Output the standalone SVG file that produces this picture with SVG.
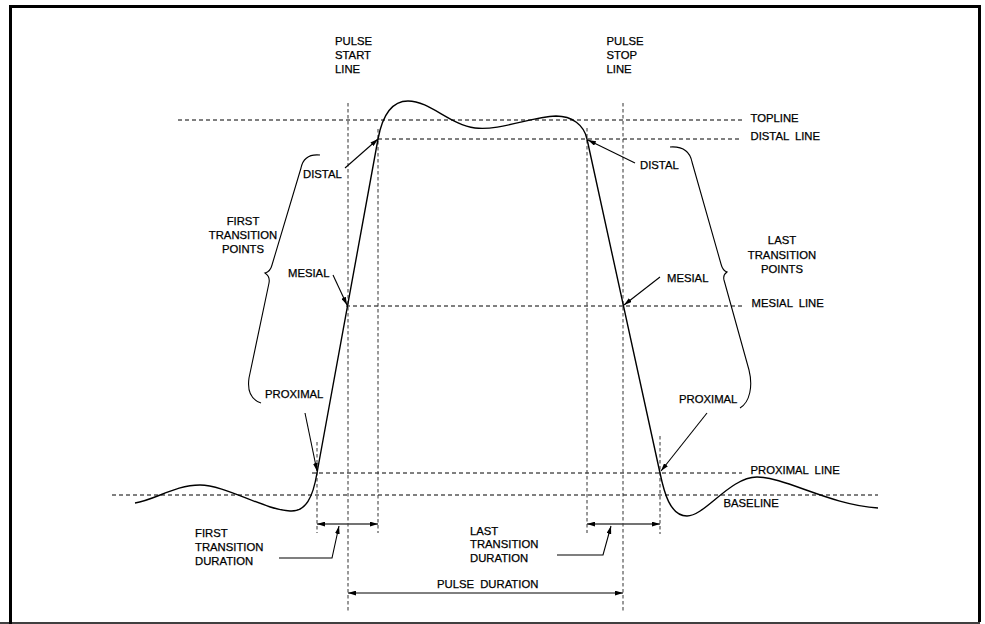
<svg xmlns="http://www.w3.org/2000/svg" width="985" height="624" viewBox="0 0 985 624">
<defs>
<style>
text{font-family:"Liberation Sans",Arial,Helvetica,sans-serif;font-size:11.3px;fill:#000;stroke:#000;stroke-width:0.25}
.hd{stroke:#000;stroke-width:1;stroke-dasharray:4 3;fill:none}
.vd{stroke:#333;stroke-width:1;stroke-dasharray:3.5 2.5;fill:none}
.wave{stroke:#000;stroke-width:1.4;fill:none}
.br{stroke:#000;stroke-width:1.1;fill:none}
.ld{stroke:#000;stroke-width:1.1;fill:none;marker-end:url(#ah)}
.dim{stroke:#444;stroke-width:1.5;fill:none;marker-start:url(#ah);marker-end:url(#ah)}
.mid{text-anchor:middle}
</style>
<marker id="ah" viewBox="0 0 10 6" refX="10" refY="3" markerWidth="8" markerHeight="5" markerUnits="userSpaceOnUse" orient="auto-start-reverse">
<path d="M0,0 L10,3 L0,6 z" fill="#000"/>
</marker>
</defs>
<rect width="985" height="624" fill="#fff"/>
<g id="frame">
<path d="M10.5,624 V6.5 H979.5 V622" fill="none" stroke="#000" stroke-width="3"/>
<path d="M0,623 H980" stroke="#000" stroke-width="1.5"/>
</g>
<g id="reference-lines">
<path class="hd" d="M178,120 H742"/>
<path class="hd" d="M378,139 H742"/>
<path class="hd" d="M346,306 H742"/>
<path class="hd" d="M312,473 H742"/>
<path class="hd" d="M112,495 H878"/>
<path class="vd" d="M348,103 V611"/>
<path class="vd" d="M623,103 V611"/>
<path class="vd" d="M378,129 V533"/>
<path class="vd" d="M587,128 V533"/>
<path class="vd" d="M317,442 V533"/>
<path class="vd" d="M660,436 V534"/>
</g>
<g id="waveform">
<path class="wave" d="M135,503 C155,500 175,485 200,485 C225,485 265,510 290,511 C306,512 313,497 317,473 L378,139 C381,123 388,101 408,101 C430,101 450,125 475,128 C500,131 530,117 556,116 C572,116 584,125 587,139 L660,473 C664,492 670,516 687,516 C705,516 730,477 757,477 C785,477 830,505 878,508"/>
</g>
<g id="braces">
<path class="br" d="M320,155 C310,154 303,158 301,168 L272,265 C271,269 269,272 265,273 C268,275 270,278 269,283 L249,378 C247,392 252,400 261,403"/>
<path class="br" d="M670,147 C684,146 690,152 692,162 L721,264 C722,268 724,271 727,272 C724,274 723,276 724,280 L749,370 C753,386 750,402 740,408"/>
</g>
<g id="connectors">
<path class="ld" d="M345,168 L378,139"/>
<path class="ld" d="M333,275 L347,305"/>
<path class="ld" d="M305,413 L317,471"/>
<path class="ld" d="M635,163 L588,140"/>
<path class="ld" d="M660,277 L624,305"/>
<path class="ld" d="M707,413 L661,471"/>
<path class="ld" d="M279,558 H332 L339,526"/>
<path class="ld" d="M557,555 H603 L611,526"/>
<path class="dim" d="M317,524 H378"/>
<path class="dim" d="M587,524 H660"/>
<path class="dim" d="M348,593 H623" style="stroke:#000;stroke-width:1"/>
</g>
<g id="label-pulse-start">
<text x="335" y="45">PULSE</text>
<text x="335" y="59">START</text>
<text x="335" y="73">LINE</text>
</g>
<g id="label-pulse-stop">
<text x="606.5" y="45">PULSE</text>
<text x="606.5" y="59">STOP</text>
<text x="606.5" y="73">LINE</text>
</g>
<g id="label-lines">
<text x="750.5" y="122">TOPLINE</text>
<text x="750.5" y="139.5" word-spacing="3">DISTAL LINE</text>
<text x="751.5" y="306.5" word-spacing="3">MESIAL LINE</text>
<text x="750.5" y="473.5" word-spacing="3">PROXIMAL LINE</text>
<text x="723.5" y="507">BASELINE</text>
</g>
<g id="label-first-points">
<text x="303" y="178">DISTAL</text>
<text x="288" y="277">MESIAL</text>
<text x="265" y="398">PROXIMAL</text>
<text class="mid" x="243" y="225">FIRST</text>
<text class="mid" x="243" y="239">TRANSITION</text>
<text class="mid" x="243" y="252.5">POINTS</text>
</g>
<g id="label-last-points">
<text x="640" y="169">DISTAL</text>
<text x="667" y="281.5">MESIAL</text>
<text x="679" y="403">PROXIMAL</text>
<text class="mid" x="782" y="244">LAST</text>
<text class="mid" x="782" y="258.5">TRANSITION</text>
<text class="mid" x="782" y="273">POINTS</text>
</g>
<g id="label-first-duration">
<text x="195" y="537">FIRST</text>
<text x="195" y="550.7">TRANSITION</text>
<text x="195" y="564.5">DURATION</text>
</g>
<g id="label-last-duration">
<text x="470" y="534.5">LAST</text>
<text x="470" y="548">TRANSITION</text>
<text x="470" y="561.5">DURATION</text>
</g>
<g id="label-pulse-duration">
<text x="437" y="587.5" word-spacing="3">PULSE DURATION</text>
</g>
</svg>
